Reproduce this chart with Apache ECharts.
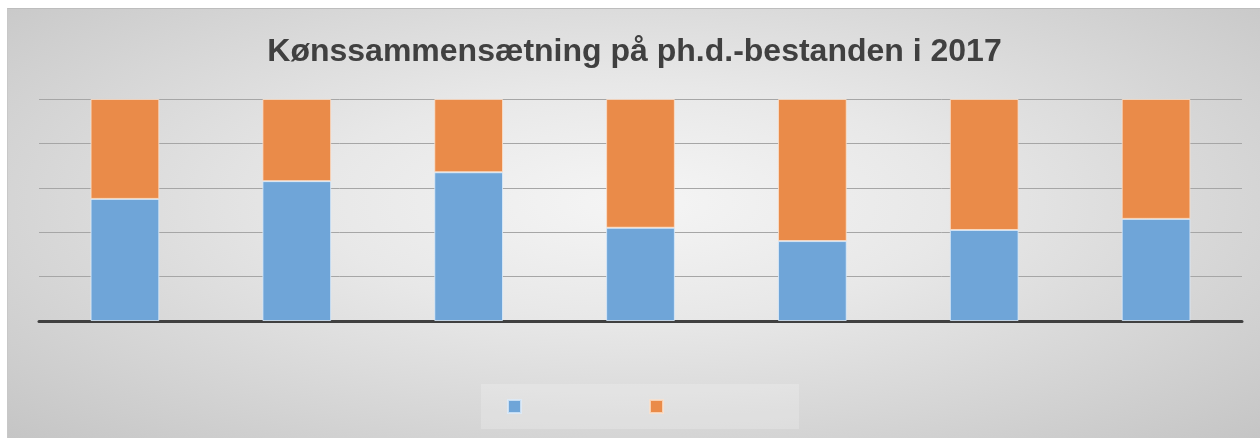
<!DOCTYPE html>
<html>
<head>
<meta charset="utf-8">
<script src="https://cdn.jsdelivr.net/npm/echarts@6/dist/echarts.min.js"></script>
<style>
html,body{margin:0;padding:0;background:#ffffff;width:1260px;height:438px;overflow:hidden;}
#frame{position:absolute;left:7px;top:8px;width:1253px;height:430px;
  background:radial-gradient(ellipse at 50% 45%, #f5f5f5 0%, #e8e8e8 35%, #c5c5c5 100%);
  border-top:1px solid #bdbdbd;border-left:1px solid #c8c8c8;box-sizing:border-box;}
#chart{position:absolute;left:0;top:0;width:1253px;height:430px;}
</style>
</head>
<body>
<div id="frame"><div id="chart"></div></div>
<script>
const titleText = 'Kønssammensætning på ph.d.-bestanden i 2017';
const categories = ['1', '2', '3', '4', '5', '6', '7'];
const seriesNames = ['Kvinder', 'Mænd'];
const blueValues = [55, 63, 67, 42, 36, 41, 46];
const orangeValues = [45, 37, 33, 58, 64, 59, 54];
const yTicks = [0, 20, 40, 60, 80, 100];

const chart = echarts.init(document.getElementById('chart'), null, {renderer: 'canvas'});
chart.setOption({
  backgroundColor: 'transparent',
  animation: false,
  title: {
    text: titleText,
    left: 'center',
    top: 22,
    textStyle: {fontFamily: 'Liberation Sans, Arial, sans-serif', fontSize: 32, fontWeight: 'bold', color: '#404040'}
  },
  graphic: [{
    type: 'rect',
    left: 473, top: 375,
    shape: {width: 318, height: 45},
    style: {fill: 'rgba(255,255,255,0.2)'},
    z: 0
  }],
  legend: {
    left: 499, top: 390,
    padding: 0,
    itemWidth: 13, itemHeight: 13,
    itemGap: 127,
    icon: 'rect',
    formatter: function () { return ''; },
    data: seriesNames
  },
  grid: {left: 31, top: 90, width: 1203, height: 222, containLabel: false},
  xAxis: {
    type: 'category',
    data: categories,
    axisLine: {show: true, lineStyle: {color: '#404040', width: 3}},
    axisTick: {show: false},
    axisLabel: {show: false}
  },
  yAxis: {
    type: 'value',
    min: yTicks[0], max: yTicks[yTicks.length - 1], interval: 20,
    axisLine: {show: false},
    axisTick: {show: false},
    axisLabel: {show: false},
    splitLine: {show: true, lineStyle: {color: '#a6a6a6', width: 1}}
  },
  series: [
    {
      name: seriesNames[0], type: 'bar', stack: 'total', barWidth: '40%',
      data: blueValues,
      itemStyle: {color: '#6fa5d8', borderColor: 'rgba(220,235,250,0.8)', borderWidth: 1}
    },
    {
      name: seriesNames[1], type: 'bar', stack: 'total', barWidth: '40%',
      data: orangeValues,
      itemStyle: {color: '#ea8b49', borderColor: 'rgba(250,225,205,0.8)', borderWidth: 1}
    }
  ]
});
</script>
</body>
</html>
